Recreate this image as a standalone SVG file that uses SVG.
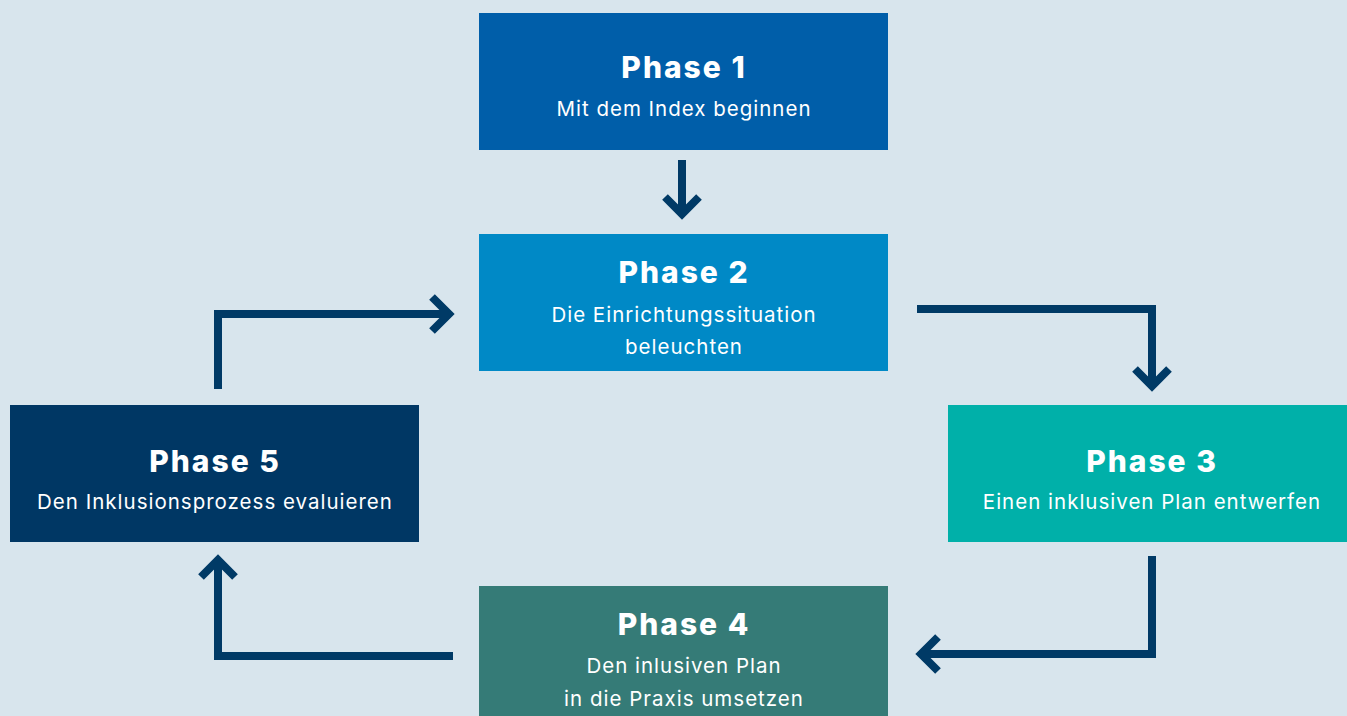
<svg xmlns="http://www.w3.org/2000/svg" width="1347" height="716" viewBox="0 0 1347 716">
<defs>
<style>
.t{font-family:Inter,"Liberation Sans",sans-serif;font-weight:800;font-size:30px;letter-spacing:2px;fill:#fff;text-anchor:middle}
.s{font-family:Inter,"Liberation Sans",sans-serif;font-size:20.5px;letter-spacing:1px;fill:#fff;text-anchor:middle}
.c{fill:none;stroke:#003a66;stroke-width:8;stroke-linecap:butt;stroke-linejoin:miter}
</style>
</defs>
<rect width="1347" height="716" fill="#d8e5ed"/>
<g id="phase1"><rect x="479" y="13" width="409" height="137" fill="#005ea9"/><text class="t" x="684" y="78">Phase 1</text><text class="s" x="684" y="116">Mit dem Index beginnen</text></g>
<g id="phase2"><rect x="479" y="234" width="409" height="137" fill="#0089c6"/><text class="t" x="684" y="283">Phase 2</text><text class="s" x="684" y="322">Die Einrichtungssituation</text><text class="s" x="684" y="354">beleuchten</text></g>
<g id="phase3"><rect x="948" y="405" width="399" height="137" fill="#00b0a9"/><text class="t" x="1152" y="472">Phase 3</text><text class="s" x="1152" y="509">Einen inklusiven Plan entwerfen</text></g>
<g id="phase4"><rect x="479" y="586" width="409" height="130" fill="#357b77"/><text class="t" x="684" y="635">Phase 4</text><text class="s" x="684" y="673">Den inlusiven Plan</text><text class="s" x="684" y="706">in die Praxis umsetzen</text></g>
<g id="phase5"><rect x="10" y="405" width="409" height="137" fill="#003764"/><text class="t" x="215" y="472">Phase 5</text><text class="s" x="215" y="509">Den Inklusionsprozess evaluieren</text></g>
<g id="connectors">
<path class="c" d="M682 160V214M665 197L682 214L699 197"/>
<path class="c" d="M218 389V314H449M432 297L449 314L432 331"/>
<path class="c" d="M917 309H1152V386M1135 369L1152 386L1169 369"/>
<path class="c" d="M1152 556V654H921M938 637L921 654L938 671"/>
<path class="c" d="M453 656H218V560M201 577L218 560L235 577"/>
</g>
</svg>
